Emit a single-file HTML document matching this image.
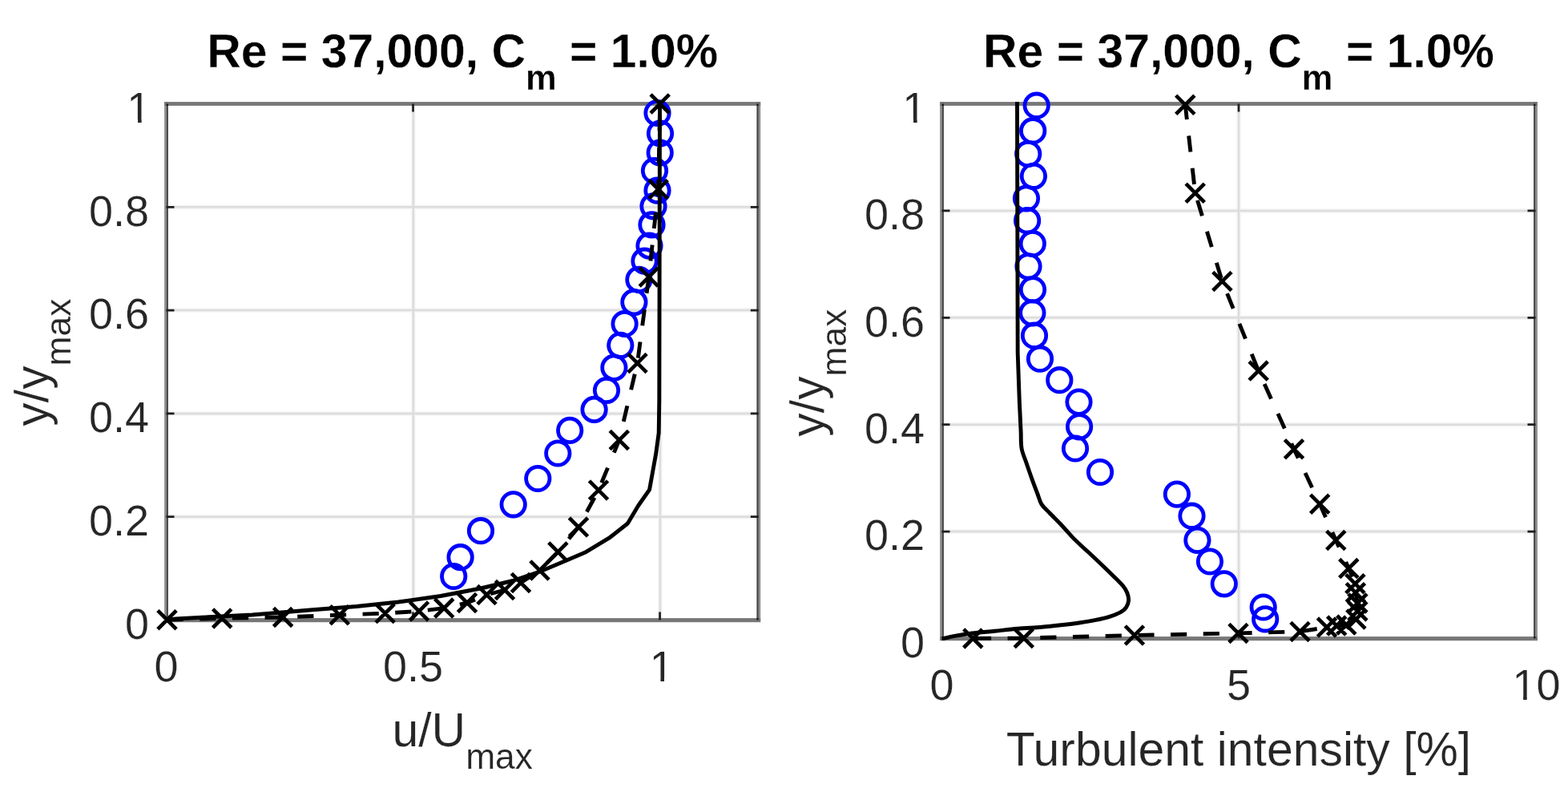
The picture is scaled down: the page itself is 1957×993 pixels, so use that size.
<!DOCTYPE html>
<html><head><meta charset="utf-8"><title>Re = 37,000 profiles</title>
<style>html,body{margin:0;padding:0;background:#fff;}body{width:1957px;height:993px;overflow:hidden;}svg{display:block;}</style>
</head><body>
<svg width="1957" height="993" viewBox="0 0 1957 993">
<rect width="1957" height="993" fill="#fff"/>
<defs><clipPath id="c1_0"><rect x="806.77" y="789.8" width="38.02" height="55.77"/><rect x="824.45" y="841.8" width="4.57" height="10"/></clipPath><clipPath id="c1_1"><rect x="154.38" y="92.8" width="38.02" height="55.77"/><rect x="172.06" y="144.8" width="4.57" height="10"/></clipPath><clipPath id="c1_2"><rect x="1883.48" y="812.8" width="68.05" height="55.77"/><rect x="1901.16" y="864.8" width="4.57" height="10"/><rect x="1916.5" y="812.8" width="34.02" height="70"/></clipPath><clipPath id="c1_3"><rect x="1122.38" y="92.8" width="38.02" height="55.77"/><rect x="1140.06" y="144.8" width="4.57" height="10"/></clipPath></defs>
<path d="M515.84 129.5V773.5M823.88 129.5V773.5M207.5 644.7H946.8M207.5 515.9H946.8M207.5 387.1H946.8M207.5 258.3H946.8" stroke="#f4f4f4" stroke-width="5.5" fill="none"/>
<path d="M515.84 129.5V773.5M823.88 129.5V773.5M207.5 644.7H946.8M207.5 515.9H946.8M207.5 387.1H946.8M207.5 258.3H946.8" stroke="#dcdcdc" stroke-width="2.5" fill="none"/>
<path d="M1546 129.5V796.5M1175.5 663.1H1916.5M1175.5 529.7H1916.5M1175.5 396.3H1916.5M1175.5 262.9H1916.5" stroke="#f4f4f4" stroke-width="5.5" fill="none"/>
<path d="M1546 129.5V796.5M1175.5 663.1H1916.5M1175.5 529.7H1916.5M1175.5 396.3H1916.5M1175.5 262.9H1916.5" stroke="#dcdcdc" stroke-width="2.5" fill="none"/>
<rect x="205.1" y="127.1" width="2.4" height="648.8" fill="#8e8e8e"/>
<rect x="207.5" y="127.1" width="2.4" height="648.8" fill="#444"/>
<rect x="946.8" y="127.1" width="2.4" height="648.8" fill="#8e8e8e"/>
<rect x="944.4" y="127.1" width="2.4" height="648.8" fill="#444"/>
<rect x="205.1" y="127.1" width="744.1" height="4.8" fill="#777"/>
<rect x="205.1" y="771.1" width="744.1" height="5.1" fill="#777"/>
<path d="M515.54 773.5v-10M515.54 129.5v10M823.58 773.5v-10M823.58 129.5v10M207.5 644.7h10M946.8 644.7h-10M207.5 515.9h10M946.8 515.9h-10M207.5 387.1h10M946.8 387.1h-10M207.5 258.3h10M946.8 258.3h-10" stroke="#1e1e1e" stroke-width="2.7" fill="none"/>
<rect x="207.5" y="129.5" width="2.5" height="2.5" fill="#1e1e1e"/>
<rect x="944.3" y="129.5" width="2.5" height="2.5" fill="#1e1e1e"/>
<rect x="207.5" y="771" width="2.5" height="2.5" fill="#1e1e1e"/>
<rect x="944.3" y="771" width="2.5" height="2.5" fill="#1e1e1e"/>
<rect x="1173.1" y="127.1" width="2.4" height="671.8" fill="#8e8e8e"/>
<rect x="1175.5" y="127.1" width="2.4" height="671.8" fill="#444"/>
<rect x="1916.5" y="127.1" width="2.4" height="671.8" fill="#8e8e8e"/>
<rect x="1914.1" y="127.1" width="2.4" height="671.8" fill="#444"/>
<rect x="1173.1" y="127.1" width="745.8" height="4.8" fill="#777"/>
<rect x="1173.1" y="794.1" width="745.8" height="5.1" fill="#777"/>
<path d="M1546 796.5v-10M1546 129.5v10M1175.5 663.1h10M1916.5 663.1h-10M1175.5 529.7h10M1916.5 529.7h-10M1175.5 396.3h10M1916.5 396.3h-10M1175.5 262.9h10M1916.5 262.9h-10" stroke="#1e1e1e" stroke-width="2.7" fill="none"/>
<rect x="1175.5" y="129.5" width="2.5" height="2.5" fill="#1e1e1e"/>
<rect x="1914" y="129.5" width="2.5" height="2.5" fill="#1e1e1e"/>
<rect x="1175.5" y="794" width="2.5" height="2.5" fill="#1e1e1e"/>
<rect x="1914" y="794" width="2.5" height="2.5" fill="#1e1e1e"/>
<g fill="none" stroke="#0000ff" stroke-width="4.8">
<circle cx="820.5" cy="141" r="14.7"/>
<circle cx="824" cy="166.5" r="14.7"/>
<circle cx="823.7" cy="190.5" r="14.7"/>
<circle cx="817" cy="213" r="14.7"/>
<circle cx="820.5" cy="237.7" r="14.7"/>
<circle cx="815.5" cy="257.3" r="14.7"/>
<circle cx="813.5" cy="280.4" r="14.7"/>
<circle cx="810.5" cy="306.6" r="14.7"/>
<circle cx="804.5" cy="325.7" r="14.7"/>
<circle cx="797.4" cy="348.9" r="14.7"/>
<circle cx="791.4" cy="377.1" r="14.7"/>
<circle cx="779.6" cy="404" r="14.7"/>
<circle cx="774.3" cy="430.8" r="14.7"/>
<circle cx="766.4" cy="458.6" r="14.7"/>
<circle cx="757" cy="487" r="14.7"/>
<circle cx="741.6" cy="510.9" r="14.7"/>
<circle cx="711.2" cy="536.9" r="14.7"/>
<circle cx="696.3" cy="565.5" r="14.7"/>
<circle cx="671.3" cy="597" r="14.7"/>
<circle cx="640.7" cy="629.3" r="14.7"/>
<circle cx="600" cy="662.2" r="14.7"/>
<circle cx="574.6" cy="695.2" r="14.7"/>
<circle cx="566.2" cy="719" r="14.7"/>
</g>
<polyline points="207.5,773.5 219.5,772 260,769.8 315,767 390,760.8 445,756.5 497,751 550,743.5 600,734 640,724.5 674,713 706,699.5 730,689.3 760.2,671.2 783.4,653 796.5,631 810.6,610.8 814.6,588.6 818.6,566.5 822.2,540 822.8,500 823.5,127" fill="none" stroke="#000" stroke-width="4.9" stroke-linejoin="round"/>
<polyline points="208.5,773.2 277.2,771.4 353.1,769.9 423.8,767.2 480.7,765.1 523,762.4 554.2,758.6 583,752 607.5,742 630,736 650,727 673.5,711.5 696.4,688.5 722,657.6 747,611.5 772.8,549 795.5,453 809.8,345.5 821.6,236.1 823.7,129.5" fill="none" stroke="#000" stroke-width="4.9" stroke-dasharray="20.2 20.5" stroke-dashoffset="0"/>
<path d="M196.9 761.6l23.2 23.2M196.9 784.8l23.2 -23.2M265.6 759.8l23.2 23.2M265.6 783l23.2 -23.2M341.5 758.3l23.2 23.2M341.5 781.5l23.2 -23.2M412.2 755.6l23.2 23.2M412.2 778.8l23.2 -23.2M469.1 753.5l23.2 23.2M469.1 776.7l23.2 -23.2M511.4 750.8l23.2 23.2M511.4 774l23.2 -23.2M542.6 747l23.2 23.2M542.6 770.2l23.2 -23.2M571.4 740.4l23.2 23.2M571.4 763.6l23.2 -23.2M595.9 730.4l23.2 23.2M595.9 753.6l23.2 -23.2M618.4 724.4l23.2 23.2M618.4 747.6l23.2 -23.2M638.4 715.4l23.2 23.2M638.4 738.6l23.2 -23.2M661.9 699.9l23.2 23.2M661.9 723.1l23.2 -23.2M684.8 676.9l23.2 23.2M684.8 700.1l23.2 -23.2M710.4 646l23.2 23.2M710.4 669.2l23.2 -23.2M735.4 599.9l23.2 23.2M735.4 623.1l23.2 -23.2M761.2 537.4l23.2 23.2M761.2 560.6l23.2 -23.2M783.9 441.4l23.2 23.2M783.9 464.6l23.2 -23.2M798.2 333.9l23.2 23.2M798.2 357.1l23.2 -23.2M810 224.5l23.2 23.2M810 247.7l23.2 -23.2M812.1 117.9l23.2 23.2M812.1 141.1l23.2 -23.2" stroke="#000" stroke-width="4.7" fill="none"/>
<g fill="none" stroke="#0000ff" stroke-width="4.8">
<circle cx="1293.7" cy="131.7" r="14.7"/>
<circle cx="1289.2" cy="163.2" r="14.7"/>
<circle cx="1283.2" cy="192" r="14.7"/>
<circle cx="1289.9" cy="219.8" r="14.7"/>
<circle cx="1281" cy="247.5" r="14.7"/>
<circle cx="1282.1" cy="275.2" r="14.7"/>
<circle cx="1288.8" cy="304" r="14.7"/>
<circle cx="1283.5" cy="332.3" r="14.7"/>
<circle cx="1289" cy="361.3" r="14.7"/>
<circle cx="1288.4" cy="390.3" r="14.7"/>
<circle cx="1291" cy="418.7" r="14.7"/>
<circle cx="1298" cy="447.7" r="14.7"/>
<circle cx="1322.3" cy="474.2" r="14.7"/>
<circle cx="1346.5" cy="501.6" r="14.7"/>
<circle cx="1347.1" cy="532.3" r="14.7"/>
<circle cx="1342" cy="559.5" r="14.7"/>
<circle cx="1373" cy="589" r="14.7"/>
<circle cx="1468.9" cy="616.6" r="14.7"/>
<circle cx="1487.5" cy="643.7" r="14.7"/>
<circle cx="1494.4" cy="673.9" r="14.7"/>
<circle cx="1510" cy="700.5" r="14.7"/>
<circle cx="1527.8" cy="728.3" r="14.7"/>
<circle cx="1576.7" cy="757.5" r="14.7"/>
<circle cx="1579.2" cy="772.3" r="14.7"/>
</g>
<path d="M1175.5 796.5L1178 796.5C1180.25 795.98 1185.68 794.48 1191.5 793.4C1197.32 792.32 1204.57 791.03 1212.9 790C1221.23 788.97 1231.97 788.15 1241.5 787.2C1251.03 786.25 1260.35 785.13 1270.1 784.3C1279.85 783.47 1290.98 782.97 1300 782.2C1309.02 781.43 1316.15 780.62 1324.2 779.7C1332.25 778.78 1341.25 777.7 1348.3 776.7C1355.35 775.7 1360.45 774.92 1366.5 773.7C1372.55 772.48 1379.17 771.12 1384.6 769.4C1390.03 767.68 1395.57 765.42 1399.1 763.4C1402.63 761.38 1404.22 759.72 1405.8 757.3C1407.38 754.88 1408.43 751.87 1408.6 748.9C1408.77 745.93 1407.98 742.52 1406.8 739.5C1405.62 736.48 1404.4 734.32 1401.5 730.8C1398.6 727.28 1393.82 722.8 1389.4 718.4C1384.98 714 1379.57 708.77 1375 704.4C1370.43 700.03 1366.17 696.07 1362 692.2C1357.83 688.33 1354 684.97 1350 681.2C1346 677.43 1342.17 673.93 1338 669.6C1333.83 665.27 1329.7 660.18 1325 655.2C1320.3 650.22 1313.97 644.05 1309.8 639.7C1305.63 635.35 1302.52 633.13 1300 629.1C1297.48 625.07 1296.72 620.78 1294.7 615.5C1292.68 610.22 1290.17 603.68 1287.9 597.4C1285.63 591.12 1283.23 584.1 1281.1 577.8C1278.97 571.5 1276.25 565.9 1275.1 559.6C1273.95 553.3 1274.35 543.27 1274.2 540L1272.3 500L1270.2 440L1269.5 127" fill="none" stroke="#000" stroke-width="4.9" stroke-linejoin="round"/>
<polyline points="1214.3,796.4 1277.8,796.1 1415.9,792.5 1545.5,789.9 1622.5,787.9 1656,782.6" fill="none" stroke="#000" stroke-width="4.9" stroke-dasharray="20.2 20.5" stroke-dashoffset="38.1"/>
<polyline points="1656,782.6 1668.2,780.6 1680.3,779.6 1692.4,772.5 1694.4,762.4 1694.4,752.4 1691.9,739.3 1691.4,728.2 1683.3,709.1 1667.3,674 1647.2,628.7 1615,560.3 1570.7,462.6 1525.4,350.9 1491.7,240.7 1479.3,130.8" fill="none" stroke="#000" stroke-width="4.9" stroke-dasharray="20.2 20.5" stroke-dashoffset="29.51"/>
<path d="M1202.7 784.8l23.2 23.2M1202.7 808l23.2 -23.2M1266.2 784.5l23.2 23.2M1266.2 807.7l23.2 -23.2M1404.3 780.9l23.2 23.2M1404.3 804.1l23.2 -23.2M1533.9 778.3l23.2 23.2M1533.9 801.5l23.2 -23.2M1610.9 776.3l23.2 23.2M1610.9 799.5l23.2 -23.2M1644.4 771l23.2 23.2M1644.4 794.2l23.2 -23.2M1656.6 769l23.2 23.2M1656.6 792.2l23.2 -23.2M1668.7 768l23.2 23.2M1668.7 791.2l23.2 -23.2M1680.8 760.9l23.2 23.2M1680.8 784.1l23.2 -23.2M1682.8 750.8l23.2 23.2M1682.8 774l23.2 -23.2M1682.8 740.8l23.2 23.2M1682.8 764l23.2 -23.2M1680.3 727.7l23.2 23.2M1680.3 750.9l23.2 -23.2M1679.8 716.6l23.2 23.2M1679.8 739.8l23.2 -23.2M1671.7 697.5l23.2 23.2M1671.7 720.7l23.2 -23.2M1655.7 662.4l23.2 23.2M1655.7 685.6l23.2 -23.2M1635.6 617.1l23.2 23.2M1635.6 640.3l23.2 -23.2M1603.4 548.7l23.2 23.2M1603.4 571.9l23.2 -23.2M1559.1 451l23.2 23.2M1559.1 474.2l23.2 -23.2M1513.8 339.3l23.2 23.2M1513.8 362.5l23.2 -23.2M1480.1 229.1l23.2 23.2M1480.1 252.3l23.2 -23.2M1467.7 119.2l23.2 23.2M1467.7 142.4l23.2 -23.2" stroke="#000" stroke-width="4.7" fill="none"/>
<g font-family="'Liberation Sans', Arial, Helvetica, sans-serif" font-size="54" fill="#262626" stroke="#fff" stroke-width="0.2">
<text x="207.5" y="849.8" text-anchor="middle">0</text>
<text x="515.54" y="849.8" text-anchor="middle">0.5</text>
<text x="825.78" y="849.8" text-anchor="middle" clip-path="url(#c1_0)">1</text>
<text x="186" y="796.8" text-anchor="end">0</text>
<text x="186" y="668" text-anchor="end">0.2</text>
<text x="186" y="539.2" text-anchor="end">0.4</text>
<text x="186" y="410.4" text-anchor="end">0.6</text>
<text x="186" y="281.6" text-anchor="end">0.8</text>
<text x="188.4" y="152.8" text-anchor="end" clip-path="url(#c1_1)">1</text>
<text x="1175.5" y="872.8" text-anchor="middle">0</text>
<text x="1546" y="872.8" text-anchor="middle">5</text>
<text x="1917.5" y="872.8" text-anchor="middle" clip-path="url(#c1_2)">10</text>
<text x="1154" y="819.8" text-anchor="end">0</text>
<text x="1154" y="686.4" text-anchor="end">0.2</text>
<text x="1154" y="553" text-anchor="end">0.4</text>
<text x="1154" y="419.6" text-anchor="end">0.6</text>
<text x="1154" y="286.2" text-anchor="end">0.8</text>
<text x="1156.4" y="152.8" text-anchor="end" clip-path="url(#c1_3)">1</text>
</g>
<g font-family="'Liberation Sans', Arial, Helvetica, sans-serif" font-size="58.9" fill="#262626" stroke="#fff" stroke-width="0.2">
<text x="577.15" y="931.3" text-anchor="middle">u/U<tspan font-size="44.3" dy="28">max</tspan></text>
<text x="1546" y="954.5" text-anchor="middle">Turbulent intensity [%]</text>
<text transform="translate(59.5 452.2) rotate(-90)" text-anchor="middle">y/y<tspan font-size="44.3" dy="28">max</tspan></text>
<text transform="translate(1028 465.2) rotate(-90)" text-anchor="middle">y/y<tspan font-size="44.3" dy="28">max</tspan></text>
</g>
<g font-family="'Liberation Sans', Arial, Helvetica, sans-serif" font-size="58.9" font-weight="bold" fill="#000" stroke="#fff" stroke-width="0.3">
<text x="577.15" y="83.7" text-anchor="middle">Re = 37,000, C<tspan font-size="43.5" dy="27.8">m</tspan><tspan dy="-27.8"> = 1.0%</tspan></text>
<text x="1546" y="83.7" text-anchor="middle">Re = 37,000, C<tspan font-size="43.5" dy="27.8">m</tspan><tspan dy="-27.8"> = 1.0%</tspan></text>
</g>
</svg>
</body></html>
